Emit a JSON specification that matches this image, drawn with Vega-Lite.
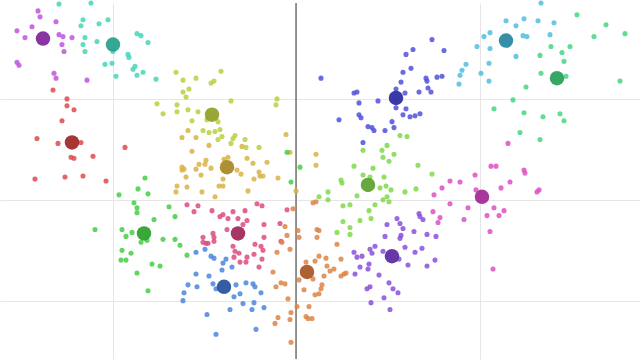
{
"$schema": "https://vega.github.io/schema/vega-lite/v6.json",
"width": 640, "height": 360,
"autosize": {"type": "fit", "contains": "padding"},
"padding": 0,
"background": "white",
"config": {"view": {"stroke": null}, "axis": {"grid": true, "gridColor": "#e6e6e6", "gridWidth": 1, "labels": false, "ticks": false, "domain": false, "title": null}},
"datasets": {
"pts": [
{"g":"A","x":-258,"y":191},{"g":"A","x":-256,"y":185},{"g":"A","x":-240,"y":180},{"g":"A","x":-264,"y":175},{"g":"A","x":-279,"y":171},{"g":"A","x":-271,"y":164},{"g":"A","x":-237,"y":167},{"g":"A","x":-233,"y":165},{"g":"A","x":-234,"y":157},{"g":"A","x":-224,"y":164},{"g":"A","x":-232,"y":150},{"g":"A","x":-279,"y":139},{"g":"A","x":-277,"y":136},{"g":"A","x":-242,"y":128},{"g":"A","x":-240,"y":123},{"g":"A","x":-209,"y":121},
{"g":"B","x":-237,"y":198},{"g":"B","x":-205,"y":199},{"g":"B","x":-213,"y":182},{"g":"B","x":-215,"y":176},{"g":"B","x":-197,"y":178},{"g":"B","x":-188,"y":182},{"g":"B","x":-211,"y":164},{"g":"B","x":-213,"y":157},{"g":"B","x":-211,"y":150},{"g":"B","x":-199,"y":160},{"g":"B","x":-159,"y":168},{"g":"B","x":-155,"y":166},{"g":"B","x":-148,"y":159},{"g":"B","x":-168,"y":147},{"g":"B","x":-167,"y":144},{"g":"B","x":-183,"y":150},{"g":"B","x":-191,"y":137},{"g":"B","x":-184,"y":138},{"g":"B","x":-161,"y":135},{"g":"B","x":-163,"y":132},{"g":"B","x":-153,"y":129},{"g":"B","x":-159,"y":126},{"g":"B","x":-180,"y":125},{"g":"B","x":-140,"y":122},
{"g":"C","x":-243,"y":111},{"g":"C","x":-229,"y":102},{"g":"C","x":-229,"y":95},{"g":"C","x":-222,"y":91},{"g":"C","x":-234,"y":80},{"g":"C","x":-259,"y":62},{"g":"C","x":-238,"y":57},{"g":"C","x":-215,"y":58},{"g":"C","x":-225,"y":43},{"g":"C","x":-222,"y":42},{"g":"C","x":-203,"y":44},{"g":"C","x":-171,"y":53},{"g":"C","x":-261,"y":21},{"g":"C","x":-231,"y":23},{"g":"C","x":-213,"y":24},{"g":"C","x":-190,"y":19},
{"g":"D","x":-120,"y":129},{"g":"D","x":-113,"y":121},{"g":"D","x":-100,"y":123},{"g":"D","x":-75,"y":130},{"g":"D","x":-85,"y":118},{"g":"D","x":-82,"y":120},{"g":"D","x":-113,"y":109},{"g":"D","x":-107,"y":112},{"g":"D","x":-110,"y":104},{"g":"D","x":-65,"y":100},{"g":"D","x":-19,"y":102},{"g":"D","x":-20,"y":96},{"g":"D","x":-133,"y":87},{"g":"D","x":-119,"y":96},{"g":"D","x":-119,"y":89},{"g":"D","x":-108,"y":91},{"g":"D","x":-98,"y":89},{"g":"D","x":-104,"y":80},{"g":"D","x":-93,"y":70},{"g":"D","x":-87,"y":68},{"g":"D","x":-81,"y":69},{"g":"D","x":-76,"y":71},{"g":"D","x":-78,"y":79},{"g":"D","x":-74,"y":64},{"g":"D","x":-78,"y":61},{"g":"D","x":-63,"y":62},{"g":"D","x":-61,"y":65},{"g":"D","x":-65,"y":57},{"g":"D","x":-51,"y":61},{"g":"D","x":-50,"y":53},{"g":"D","x":-37,"y":53},{"g":"D","x":-89,"y":81},{"g":"D","x":-139,"y":97},
{"g":"E","x":-108,"y":70},{"g":"E","x":-114,"y":63},{"g":"E","x":-100,"y":63},{"g":"E","x":-87,"y":55},{"g":"E","x":-54,"y":54},{"g":"E","x":-104,"y":49},{"g":"E","x":-10,"y":66},{"g":"E","x":-6,"y":48},{"g":"E","x":-68,"y":43},{"g":"E","x":-72,"y":41},{"g":"E","x":-49,"y":42},{"g":"E","x":-43,"y":37},{"g":"E","x":-29,"y":38},{"g":"E","x":-90,"y":40},{"g":"E","x":-97,"y":36},{"g":"E","x":-91,"y":36},{"g":"E","x":-114,"y":33},{"g":"E","x":-112,"y":31},{"g":"E","x":-114,"y":30},{"g":"E","x":-100,"y":31},{"g":"E","x":-85,"y":32},{"g":"E","x":-59,"y":30},{"g":"E","x":-55,"y":26},{"g":"E","x":-37,"y":28},{"g":"E","x":-36,"y":24},{"g":"E","x":-33,"y":24},{"g":"E","x":-18,"y":22},{"g":"E","x":-42,"y":21},{"g":"E","x":-95,"y":25},{"g":"E","x":-110,"y":23},{"g":"E","x":-73,"y":21},{"g":"E","x":-119,"y":14},{"g":"E","x":-120,"y":8},{"g":"E","x":-109,"y":13},{"g":"E","x":-94,"y":8},{"g":"E","x":-81,"y":3},{"g":"E","x":-77,"y":14},{"g":"E","x":-73,"y":14},{"g":"E","x":-48,"y":9},{"g":"E","x":0,"y":9},{"g":"E","x":20,"y":46},{"g":"E","x":20,"y":35},
{"g":"F","x":-151,"y":22},{"g":"F","x":-177,"y":5},{"g":"F","x":-158,"y":11},{"g":"F","x":-148,"y":6},{"g":"F","x":-162,"y":-3},{"g":"F","x":-159,"y":-8},{"g":"F","x":-159,"y":-13},{"g":"F","x":-142,"y":-20},{"g":"F","x":-127,"y":-7},{"g":"F","x":-121,"y":-17},{"g":"F","x":-201,"y":-30},{"g":"F","x":-174,"y":-30},{"g":"F","x":-170,"y":-37},{"g":"F","x":-164,"y":-33},{"g":"F","x":-155,"y":-43},{"g":"F","x":-149,"y":-41},{"g":"F","x":-133,"y":-40},{"g":"F","x":-121,"y":-40},{"g":"F","x":-116,"y":-46},{"g":"F","x":-109,"y":-56},{"g":"F","x":-174,"y":-51},{"g":"F","x":-165,"y":-54},{"g":"F","x":-175,"y":-61},{"g":"F","x":-170,"y":-61},{"g":"F","x":-144,"y":-65},{"g":"F","x":-136,"y":-67},{"g":"F","x":-159,"y":-74},{"g":"F","x":-148,"y":-92},{"g":"F","x":-9,"y":48},{"g":"F","x":4,"y":33},{"g":"F","x":-5,"y":18},
{"g":"G","x":-109,"y":-5},{"g":"G","x":-98,"y":-6},{"g":"G","x":-102,"y":-12},{"g":"G","x":-84,"y":-11},{"g":"G","x":-76,"y":-17},{"g":"G","x":-73,"y":-15},{"g":"G","x":-63,"y":-12},{"g":"G","x":-68,"y":-19},{"g":"G","x":-58,"y":-19},{"g":"G","x":-51,"y":-11},{"g":"G","x":-49,"y":-21},{"g":"G","x":-53,"y":-25},{"g":"G","x":-39,"y":-4},{"g":"G","x":-34,"y":-6},{"g":"G","x":-32,"y":-25},{"g":"G","x":-69,"y":-30},{"g":"G","x":-93,"y":-38},{"g":"G","x":-83,"y":-34},{"g":"G","x":-82,"y":-38},{"g":"G","x":-93,"y":-43},{"g":"G","x":-90,"y":-44},{"g":"G","x":-88,"y":-44},{"g":"G","x":-82,"y":-42},{"g":"G","x":-63,"y":-47},{"g":"G","x":-61,"y":-52},{"g":"G","x":-57,"y":-54},{"g":"G","x":-49,"y":-58},{"g":"G","x":-56,"y":-63},{"g":"G","x":-50,"y":-63},{"g":"G","x":-41,"y":-45},{"g":"G","x":-35,"y":-47},{"g":"G","x":-33,"y":-51},{"g":"G","x":-42,"y":-55},{"g":"G","x":-34,"y":-60},{"g":"G","x":-37,"y":-68},{"g":"G","x":-62,"y":-58},{"g":"G","x":-16,"y":-24},{"g":"G","x":-15,"y":-42},{"g":"G","x":-9,"y":-10},{"g":"G","x":-32,"y":-38},
{"g":"H","x":-100,"y":-53},{"g":"H","x":-91,"y":-50},{"g":"H","x":-85,"y":-57},{"g":"H","x":-82,"y":-59},{"g":"H","x":-73,"y":-64},{"g":"H","x":-70,"y":-60},{"g":"H","x":-74,"y":-71},{"g":"H","x":-64,"y":-68},{"g":"H","x":-100,"y":-75},{"g":"H","x":-87,"y":-77},{"g":"H","x":-108,"y":-86},{"g":"H","x":-99,"y":-88},{"g":"H","x":-83,"y":-85},{"g":"H","x":-80,"y":-90},{"g":"H","x":-60,"y":-86},{"g":"H","x":-56,"y":-95},{"g":"H","x":-62,"y":-98},{"g":"H","x":-50,"y":-84},{"g":"H","x":-43,"y":-85},{"g":"H","x":-41,"y":-88},{"g":"H","x":-35,"y":-94},{"g":"H","x":-112,"y":-94},{"g":"H","x":-113,"y":-102},{"g":"H","x":-53,"y":-105},{"g":"H","x":-42,"y":-104},{"g":"H","x":-44,"y":-111},{"g":"H","x":-32,"y":-109},{"g":"H","x":-66,"y":-111},{"g":"H","x":-89,"y":-116},{"g":"H","x":-80,"y":-136},{"g":"H","x":-40,"y":-131},
{"g":"I","x":-3,"y":-9},{"g":"I","x":17,"y":-3},{"g":"I","x":20,"y":-2},{"g":"I","x":-11,"y":-27},{"g":"I","x":-9,"y":-36},{"g":"I","x":-14,"y":-43},{"g":"I","x":-6,"y":-50},{"g":"I","x":-19,"y":-53},{"g":"I","x":2,"y":-31},{"g":"I","x":3,"y":-38},{"g":"I","x":21,"y":-30},{"g":"I","x":23,"y":-31},{"g":"I","x":21,"y":-38},{"g":"I","x":41,"y":-45},{"g":"I","x":45,"y":-60},{"g":"I","x":23,"y":-57},{"g":"I","x":19,"y":-62},{"g":"I","x":30,"y":-59},{"g":"I","x":31,"y":-67},{"g":"I","x":10,"y":-63},{"g":"I","x":34,"y":-72},{"g":"I","x":38,"y":-70},{"g":"I","x":28,"y":-77},{"g":"I","x":17,"y":-80},{"g":"I","x":3,"y":-81},{"g":"I","x":8,"y":-91},{"g":"I","x":26,"y":-86},{"g":"I","x":25,"y":-90},{"g":"I","x":19,"y":-96},{"g":"I","x":23,"y":-95},{"g":"I","x":45,"y":-77},{"g":"I","x":48,"y":-75},{"g":"I","x":50,"y":-74},{"g":"I","x":-23,"y":-73},{"g":"I","x":-20,"y":-88},{"g":"I","x":-15,"y":-84},{"g":"I","x":-11,"y":-85},{"g":"I","x":-8,"y":-100},{"g":"I","x":1,"y":-108},{"g":"I","x":13,"y":-108},{"g":"I","x":-5,"y":-114},{"g":"I","x":-18,"y":-119},{"g":"I","x":-21,"y":-125},{"g":"I","x":-6,"y":-121},{"g":"I","x":10,"y":-118},{"g":"I","x":12,"y":-120},{"g":"I","x":16,"y":-120},{"g":"I","x":-5,"y":-144},
{"g":"J","x":25,"y":123},{"g":"J","x":136,"y":162},{"g":"J","x":117,"y":152},{"g":"J","x":148,"y":151},{"g":"J","x":110,"y":147},{"g":"J","x":115,"y":133},{"g":"J","x":107,"y":129},{"g":"J","x":105,"y":119},{"g":"J","x":130,"y":123},{"g":"J","x":131,"y":120},{"g":"J","x":141,"y":124},{"g":"J","x":146,"y":125},{"g":"J","x":132,"y":113},{"g":"J","x":135,"y":109},{"g":"J","x":123,"y":109},{"g":"J","x":109,"y":108},{"g":"J","x":100,"y":112},{"g":"J","x":58,"y":108},{"g":"J","x":61,"y":109},{"g":"J","x":63,"y":98},{"g":"J","x":82,"y":100},{"g":"J","x":100,"y":93},{"g":"J","x":110,"y":92},{"g":"J","x":107,"y":86},{"g":"J","x":114,"y":84},{"g":"J","x":119,"y":85},{"g":"J","x":124,"y":87},{"g":"J","x":43,"y":81},{"g":"J","x":63,"y":86},{"g":"J","x":65,"y":83},{"g":"J","x":96,"y":79},{"g":"J","x":72,"y":74},{"g":"J","x":76,"y":73},{"g":"J","x":78,"y":70},{"g":"J","x":89,"y":70},{"g":"J","x":98,"y":73},{"g":"J","x":67,"y":58},
{"g":"K","x":104,"y":65},{"g":"K","x":111,"y":64},{"g":"K","x":91,"y":55},{"g":"K","x":86,"y":50},{"g":"K","x":67,"y":50},{"g":"K","x":98,"y":46},{"g":"K","x":87,"y":43},{"g":"K","x":93,"y":39},{"g":"K","x":58,"y":34},{"g":"K","x":77,"y":32},{"g":"K","x":122,"y":35},{"g":"K","x":136,"y":26},{"g":"K","x":67,"y":25},{"g":"K","x":74,"y":23},{"g":"K","x":88,"y":23},{"g":"K","x":45,"y":20},{"g":"K","x":46,"y":17},{"g":"K","x":84,"y":12},{"g":"K","x":90,"y":14},{"g":"K","x":95,"y":10},{"g":"K","x":23,"y":3},{"g":"K","x":32,"y":8},{"g":"K","x":32,"y":0},{"g":"K","x":61,"y":4},{"g":"K","x":79,"y":-5},{"g":"K","x":91,"y":3},{"g":"K","x":87,"y":0},{"g":"K","x":93,"y":-2},{"g":"K","x":47,"y":-6},{"g":"K","x":54,"y":-5},{"g":"K","x":73,"y":-11},{"g":"K","x":75,"y":-19},{"g":"K","x":64,"y":-21},{"g":"K","x":47,"y":-22},{"g":"K","x":54,"y":-28},{"g":"K","x":41,"y":-33},{"g":"K","x":54,"y":-35},{"g":"K","x":109,"y":8},{"g":"K","x":120,"y":11},
{"g":"L","x":101,"y":-19},{"g":"L","x":104,"y":-24},{"g":"L","x":107,"y":-29},{"g":"L","x":91,"y":-25},{"g":"L","x":123,"y":-14},{"g":"L","x":124,"y":-17},{"g":"L","x":127,"y":-20},{"g":"L","x":118,"y":-32},{"g":"L","x":131,"y":-35},{"g":"L","x":140,"y":-37},{"g":"L","x":89,"y":-37},{"g":"L","x":104,"y":-39},{"g":"L","x":105,"y":-36},{"g":"L","x":79,"y":-47},{"g":"L","x":74,"y":-50},{"g":"L","x":76,"y":-54},{"g":"L","x":58,"y":-53},{"g":"L","x":61,"y":-58},{"g":"L","x":66,"y":-57},{"g":"L","x":87,"y":-52},{"g":"L","x":109,"y":-48},{"g":"L","x":119,"y":-53},{"g":"L","x":126,"y":-49},{"g":"L","x":103,"y":-60},{"g":"L","x":112,"y":-66},{"g":"L","x":131,"y":-67},{"g":"L","x":139,"y":-61},{"g":"L","x":64,"y":-68},{"g":"L","x":73,"y":-65},{"g":"L","x":72,"y":-70},{"g":"L","x":59,"y":-75},{"g":"L","x":83,"y":-76},{"g":"L","x":71,"y":-90},{"g":"L","x":74,"y":-88},{"g":"L","x":93,"y":-84},{"g":"L","x":97,"y":-90},{"g":"L","x":102,"y":-94},{"g":"L","x":88,"y":-99},{"g":"L","x":75,"y":-104},{"g":"L","x":94,"y":-111},
{"g":"M","x":195,"y":34},{"g":"M","x":200,"y":34},{"g":"M","x":179,"y":25},{"g":"M","x":154,"y":19},{"g":"M","x":164,"y":18},{"g":"M","x":146,"y":12},{"g":"M","x":138,"y":5},{"g":"M","x":180,"y":10},{"g":"M","x":205,"y":12},{"g":"M","x":214,"y":18},{"g":"M","x":154,"y":-4},{"g":"M","x":172,"y":-8},{"g":"M","x":137,"y":-12},{"g":"M","x":144,"y":-18},{"g":"M","x":142,"y":-23},{"g":"M","x":168,"y":-20},{"g":"M","x":191,"y":-16},{"g":"M","x":198,"y":-8},{"g":"M","x":203,"y":-16},{"g":"M","x":208,"y":-11},{"g":"M","x":194,"y":-32},{"g":"M","x":197,"y":-70},{"g":"M","x":212,"y":57},{"g":"M","x":228,"y":30},{"g":"M","x":229,"y":27},{"g":"M","x":241,"y":8},{"g":"M","x":243,"y":10},
{"g":"N","x":245,"y":199},{"g":"N","x":210,"y":181},{"g":"N","x":228,"y":183},{"g":"N","x":242,"y":181},{"g":"N","x":258,"y":179},{"g":"N","x":220,"y":176},{"g":"N","x":194,"y":169},{"g":"N","x":188,"y":165},{"g":"N","x":227,"y":166},{"g":"N","x":231,"y":165},{"g":"N","x":254,"y":167},{"g":"N","x":181,"y":155},{"g":"N","x":194,"y":153},{"g":"N","x":220,"y":145},{"g":"N","x":170,"y":137},{"g":"N","x":166,"y":131},{"g":"N","x":164,"y":126},{"g":"N","x":163,"y":117},{"g":"N","x":185,"y":128},{"g":"N","x":193,"y":138},{"g":"N","x":193,"y":120},
{"g":"O","x":281,"y":187},{"g":"O","x":310,"y":177},{"g":"O","x":329,"y":168},{"g":"O","x":298,"y":165},{"g":"O","x":255,"y":155},{"g":"O","x":274,"y":155},{"g":"O","x":266,"y":149},{"g":"O","x":244,"y":146},{"g":"O","x":268,"y":140},{"g":"O","x":245,"y":128},{"g":"O","x":270,"y":125},{"g":"O","x":324,"y":120},{"g":"O","x":230,"y":114},{"g":"O","x":217,"y":101},{"g":"O","x":198,"y":92},{"g":"O","x":228,"y":88},{"g":"O","x":247,"y":84},{"g":"O","x":264,"y":87},{"g":"O","x":268,"y":80},{"g":"O","x":224,"y":68},{"g":"O","x":244,"y":61}
],
"cen": [
{"g":"A","x":-253,"y":163},{"g":"B","x":-183,"y":157},{"g":"C","x":-224,"y":58},{"g":"D","x":-84,"y":86},{"g":"E","x":-69,"y":33},{"g":"F","x":-152,"y":-34},{"g":"G","x":-58,"y":-34},{"g":"H","x":-72,"y":-88},{"g":"I","x":11,"y":-73},{"g":"J","x":100,"y":103},{"g":"K","x":72,"y":15},{"g":"L","x":96,"y":-57},{"g":"M","x":186,"y":3},{"g":"N","x":210,"y":161},{"g":"O","x":261,"y":123}
]
},
"layer": [
{"data": {"values": [{"x": 0}]},
 "mark": {"type": "rule", "color": "#333333", "strokeWidth": 1},
 "encoding": {"x": {"field": "x", "type": "quantitative", "scale": {"domain": [-296, 344], "nice": false, "zero": false}, "axis": {"values": [-183, 0, 184]}}}},
{"data": {"name": "pts"},
 "mark": {"type": "circle", "size": 26, "opacity": 0.85},
 "encoding": {
  "x": {"field": "x", "type": "quantitative", "scale": {"domain": [-296, 344], "nice": false, "zero": false}, "axis": {"values": [-183, 0, 184]}},
  "y": {"field": "y", "type": "quantitative", "scale": {"domain": [-161, 199], "nice": false, "zero": false}, "axis": {"values": [-102, 0, 102]}},
  "color": {"field": "g", "type": "nominal", "legend": null, "scale": {"domain": ["A","B","C","D","E","F","G","H","I","J","K","L","M","N","O"], "range": ["#bf55dd","#45d6b8","#dd4b4b","#b9d03f","#d9b346","#44cf44","#dd4b83","#4b86dd","#dd8547","#5050dd","#80d84a","#8a50dd","#dd50c3","#50bedd","#45d680"]}}
 }},
{"data": {"name": "cen"},
 "mark": {"type": "circle", "size": 210, "opacity": 0.92},
 "encoding": {
  "x": {"field": "x", "type": "quantitative", "scale": {"domain": [-296, 344], "nice": false, "zero": false}},
  "y": {"field": "y", "type": "quantitative", "scale": {"domain": [-161, 199], "nice": false, "zero": false}},
  "color": {"field": "g", "type": "nominal", "legend": null, "scale": {"domain": ["A","B","C","D","E","F","G","H","I","J","K","L","M","N","O"], "range": ["#7f2499","#26a08c","#a02525","#8fa024","#a68722","#2aa02a","#a0255a","#23509c","#a65520","#2828a0","#5aa02a","#5a28a0","#a02891","#26869f","#26a058"]}}
 }}
],
"resolve": {"scale": {"color": "independent"}}
}
